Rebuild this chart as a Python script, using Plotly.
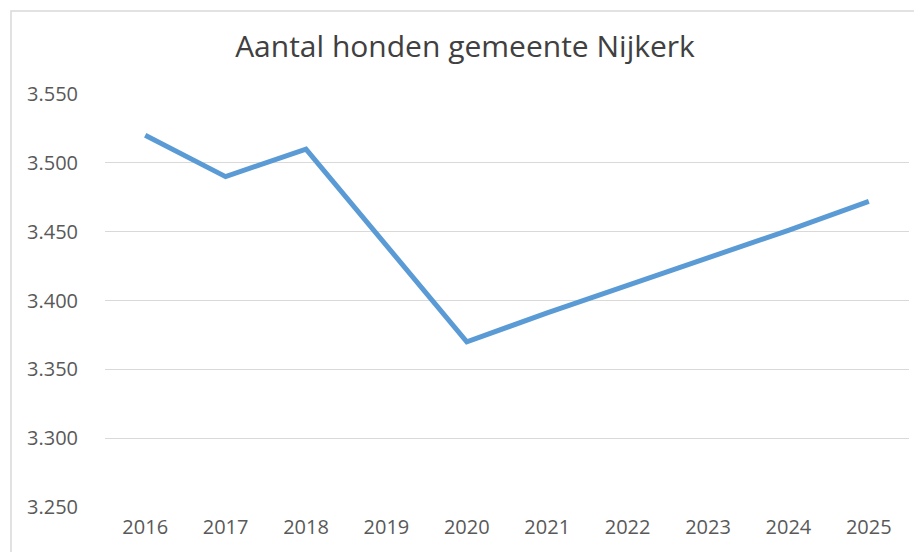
import plotly.graph_objects as go

years = ["2016", "2017", "2018", "2019", "2020", "2021", "2022", "2023", "2024", "2025"]
dogs = [3520, 3490, 3510, 3440, 3370, 3391, 3411, 3431, 3451, 3472]
y_ticks = [3250, 3300, 3350, 3400, 3450, 3500, 3550]

# page body has an 8px offset
W, H = 914, 544
L, T = 97, 86
pw, ph = 804, 413
R, B = W - L - pw, H - T - ph

def px_to_paper_x(px):
    return (px - 8 - L) / pw

def px_to_paper_y(py):
    return (T + ph - (py - 8)) / ph

FONT = "Open Sans, Liberation Sans, sans-serif"

fig = go.Figure()
fig.add_trace(go.Scatter(
    x=years, y=dogs, mode="lines",
    line=dict(color="#5B9BD5", width=5),
    hoverinfo="x+y",
))

fig.update_layout(
    width=W, height=H,
    margin=dict(l=L, r=R, t=T, b=B),
    paper_bgcolor="white", plot_bgcolor="white",
    separators=",.",
    showlegend=False,
    title=dict(text="Aantal honden gemeente Nijkerk", x=0.5, xanchor="center",
               y=1 - 38 / H, yanchor="middle",
               font=dict(family=FONT, size=30, color="#404040")),
    font=dict(family=FONT, size=20, color="#595959"),
    xaxis=dict(type="category", range=[-0.5, 9.5], showgrid=False, zeroline=False,
               showline=False, ticks="", ticklabelstandoff=6,
               tickfont=dict(size=20, color="#595959")),
    yaxis=dict(range=[3250, 3550], tickvals=y_ticks, tickformat=",d",
               showgrid=True, gridcolor="#D9D9D9", gridwidth=1.3, zeroline=False,
               showline=False, ticks="", ticklabelstandoff=26,
               tickfont=dict(size=20, color="#595959")),
    shapes=[dict(type="rect", xref="paper", yref="paper",
                 x0=px_to_paper_x(11), x1=px_to_paper_x(930),
                 y0=px_to_paper_y(570), y1=px_to_paper_y(11),
                 line=dict(color="#D9D9D9", width=1.5), fillcolor="rgba(0,0,0,0)",
                 layer="below")],
)

fig.write_html("out.html")
